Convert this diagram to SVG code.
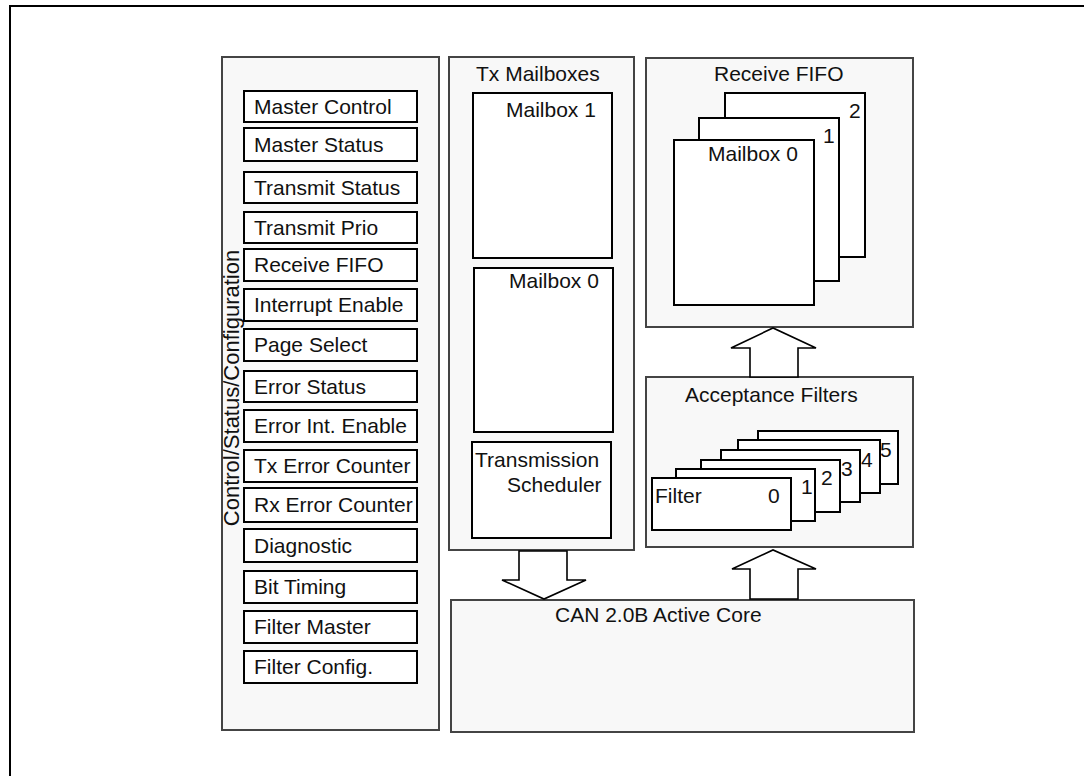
<svg xmlns="http://www.w3.org/2000/svg" width="1084" height="776" viewBox="0 0 1084 776">
<style>
text{font-family:"Liberation Sans",Arial,sans-serif;font-size:21px;fill:#111}
.panel{fill:#f8f8f8;stroke:#444;stroke-width:2}
.box{fill:#fff;stroke:#000;stroke-width:2}
.arrow{fill:#fff;stroke:#000;stroke-width:1.6;stroke-linejoin:miter}
.frame{fill:none;stroke:#000;stroke-width:2}
</style>
<rect width="1084" height="776" fill="#fff"/>
<path class="frame" d="M10,776 V6 H1084"/>

<g id="ctrl-panel">
<rect class="panel" x="222" y="57" width="217" height="673"/>
<text transform="translate(239,388) rotate(-90)" text-anchor="middle" style="font-size:22px">Control/Status/Configuration</text>
</g>
<g id="reg-master-control"><rect class="box" x="244" y="91" width="173" height="31"/><text x="254" y="113.5">Master Control</text></g>
<g id="reg-master-status"><rect class="box" x="244" y="128" width="173" height="33"/><text x="254" y="151.5">Master Status</text></g>
<g id="reg-transmit-status"><rect class="box" x="244" y="172" width="173" height="31"/><text x="254" y="194.5">Transmit Status</text></g>
<g id="reg-transmit-prio"><rect class="box" x="244" y="212" width="173" height="31"/><text x="254" y="234.5">Transmit Prio</text></g>
<g id="reg-receive-fifo"><rect class="box" x="244" y="249" width="173" height="32"/><text x="254" y="272">Receive FIFO</text></g>
<g id="reg-interrupt-enable"><rect class="box" x="244" y="289" width="173" height="32"/><text x="254" y="312">Interrupt Enable</text></g>
<g id="reg-page-select"><rect class="box" x="244" y="329" width="173" height="32"/><text x="254" y="352">Page Select</text></g>
<g id="reg-error-status"><rect class="box" x="244" y="371" width="173" height="31"/><text x="254" y="393.5">Error Status</text></g>
<g id="reg-error-int-enable"><rect class="box" x="244" y="410" width="173" height="32"/><text x="254" y="433">Error Int. Enable</text></g>
<g id="reg-tx-error-counter"><rect class="box" x="244" y="450" width="173" height="32"/><text x="254" y="473">Tx Error Counter</text></g>
<g id="reg-rx-error-counter"><rect class="box" x="244" y="488" width="173" height="34"/><text x="254" y="512">Rx Error Counter</text></g>
<g id="reg-diagnostic"><rect class="box" x="244" y="529" width="173" height="33"/><text x="254" y="552.5">Diagnostic</text></g>
<g id="reg-bit-timing"><rect class="box" x="244" y="571" width="173" height="32"/><text x="254" y="594">Bit Timing</text></g>
<g id="reg-filter-master"><rect class="box" x="244" y="611" width="173" height="32"/><text x="254" y="634">Filter Master</text></g>
<g id="reg-filter-config"><rect class="box" x="244" y="651" width="173" height="32"/><text x="254" y="674">Filter Config.</text></g>

<g id="tx-mailboxes">
<rect class="panel" x="449" y="57" width="185" height="493"/>
<text x="476" y="81">Tx Mailboxes</text>
</g>
<g id="tx-mailbox-1"><rect class="box" x="473" y="93" width="139" height="165"/><text x="506" y="117">Mailbox 1</text></g>
<g id="tx-mailbox-0"><rect class="box" x="474" y="268" width="139" height="164"/><text x="509" y="288">Mailbox 0</text></g>
<g id="tx-scheduler"><rect class="box" x="472" y="442" width="139" height="96"/><text x="475" y="467">Transmission</text><text x="507" y="492">Scheduler</text></g>

<g id="receive-fifo">
<rect class="panel" x="646" y="58" width="267" height="269"/>
<text x="714" y="81">Receive FIFO</text>
</g>
<g id="rx-mailbox-2"><rect class="box" x="725" y="93" width="140" height="164"/><text x="849" y="118">2</text></g>
<g id="rx-mailbox-1"><rect class="box" x="699" y="118" width="140" height="163"/><text x="823" y="143">1</text></g>
<g id="rx-mailbox-0"><rect class="box" x="674" y="140" width="140" height="165"/><text x="708" y="161">Mailbox 0</text></g>

<g id="acceptance-filters">
<rect class="panel" x="646" y="377" width="267" height="170"/>
<text x="685" y="402">Acceptance Filters</text>
</g>
<g id="filter-5"><rect class="box" x="758" y="431" width="140" height="53"/><text x="880" y="457">5</text></g>
<g id="filter-4"><rect class="box" x="738" y="440" width="142" height="53"/><text x="861" y="467">4</text></g>
<g id="filter-3"><rect class="box" x="721" y="450" width="139" height="52"/><text x="841" y="476">3</text></g>
<g id="filter-2"><rect class="box" x="701" y="460" width="139" height="52"/><text x="821" y="485">2</text></g>
<g id="filter-1"><rect class="box" x="676" y="469" width="139" height="52"/><text x="801" y="494">1</text></g>
<g id="filter-0"><rect class="box" x="652" y="478" width="139" height="52"/><text x="655" y="503">Filter</text><text x="768" y="503">0</text></g>

<g id="can-core">
<rect class="panel" x="451" y="600" width="463" height="132"/>
<text x="555" y="622">CAN 2.0B Active Core</text>
</g>

<g id="connectors">
<polygon class="arrow" points="519,551 567,551 567,580 586,580 544,599 502,580 519,580"/>
<polygon class="arrow" points="750,599 798,599 798,569 816,569 773,550 732,569 750,569"/>
<polygon class="arrow" points="750,377 798,377 798,348 816,348 773,328 731,348 750,348"/>
</g>
</svg>
